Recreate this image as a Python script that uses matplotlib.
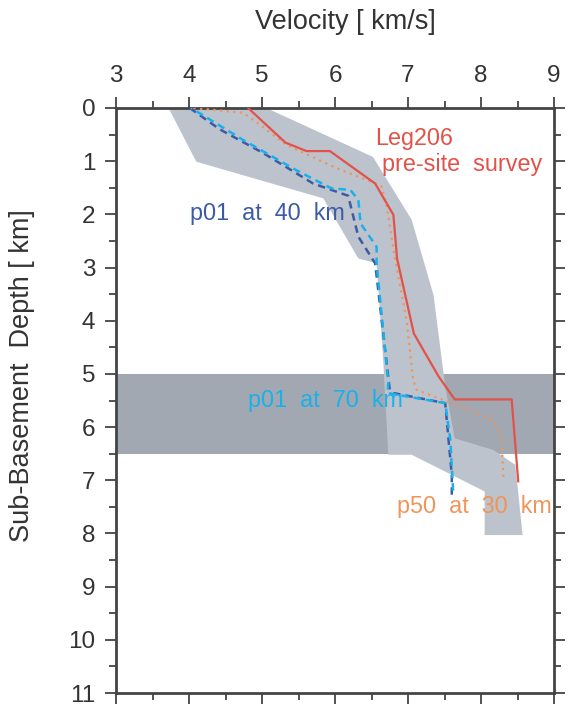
import matplotlib
matplotlib.use("Agg")
import matplotlib.pyplot as plt
from matplotlib.ticker import MultipleLocator

plt.rcParams['font.family'] = ['Liberation Sans', 'DejaVu Sans']

# Envelope (shaded range of velocity models): polygon vertices (velocity, depth)
env_v = [3.72, 4.10, 5.84, 6.32, 6.57, 6.66, 6.73, 7.05, 8.05, 8.05, 8.57,
         8.47, 8.17, 7.64, 7.51, 7.35, 7.05, 6.52, 5.06]
env_d = [0.00, 1.01, 1.70, 2.83, 2.92, 4.74, 6.52, 6.52, 7.21, 8.03, 8.03,
         6.71, 6.43, 6.21, 5.24, 3.52, 2.10, 0.92, 0.00]

# Dark band (depth range)
band_top, band_bottom = 5.0, 6.5

# Leg206 pre-site survey (red solid)
leg_v = [4.81, 5.32, 5.61, 5.93, 6.55, 6.80, 6.85, 7.08, 7.42, 7.64, 8.42, 8.51]
leg_d = [0.00, 0.65, 0.81, 0.81, 1.42, 2.01, 2.83, 4.24, 5.05, 5.48, 5.48, 7.02]

# p50 at 30 km (orange dotted)
p50_v = [4.06, 4.74, 4.95, 5.34, 6.02, 6.48, 6.64, 6.71, 6.82, 6.98, 7.07, 7.12,
         7.48, 8.17, 8.28, 8.31]
p50_d = [0.00, 0.09, 0.29, 0.70, 1.13, 1.38, 1.48, 1.85, 2.83, 3.98, 5.11, 5.30,
         5.49, 5.86, 6.24, 6.99]

# p01 at 40 km (dark blue dashed)
p40_v = [4.01, 4.42, 5.02, 5.70, 6.18, 6.32, 6.55, 6.75, 6.80, 7.51, 7.60, 7.60]
p40_d = [0.00, 0.40, 0.85, 1.42, 1.65, 2.42, 2.92, 5.30, 5.36, 5.55, 6.91, 7.31]

# p01 at 70 km (light blue dashed)
p70_v = [4.03, 4.74, 5.47, 5.95, 6.21, 6.32, 6.35, 6.57, 6.57, 6.73, 6.72, 7.51,
         7.58, 7.62]
p70_d = [0.00, 0.60, 1.17, 1.51, 1.54, 1.73, 2.17, 2.61, 2.92, 5.17, 5.36, 5.55,
         6.24, 7.24]

x_ticks = [3, 4, 5, 6, 7, 8, 9]
y_ticks = list(range(0, 12))

fig = plt.figure(figsize=(5.68, 7.06), dpi=100)
ax = fig.add_axes([116/568, 1 - 693/706, (554-116)/568, (693-108)/706])

ax.axhspan(band_top, band_bottom, color='#a1a8b1', lw=0, zorder=1)
ax.fill(env_v, env_d, color='#bcc3cd', lw=0, zorder=2)

ax.plot(p50_v, p50_d, color='#f0955a', lw=1.6, ls=(0, (1, 2)), zorder=3)
ax.plot(p40_v, p40_d, color='#3c5aa6', lw=1.8, ls=(0, (3, 2)), zorder=4)
ax.plot(p70_v, p70_d, color='#19b1ea', lw=1.8, ls=(2.5, (3, 2)), zorder=5)
ax.plot(leg_v, leg_d, color='#e25249', lw=1.6, zorder=6)

fs = 16.8
ax.text(6.55, 0.57, 'Leg206', color='#e25249', fontsize=fs, va='center', ha='left', zorder=7)
ax.text(6.64, 1.07, 'pre-site  survey', color='#e25249', fontsize=fs, va='center', ha='left', zorder=7)
ax.text(4.01, 1.99, 'p01  at  40  km', color='#3c5aa6', fontsize=fs, va='center', ha='left', zorder=7)
ax.text(4.81, 5.50, 'p01  at  70  km', color='#19b1ea', fontsize=fs, va='center', ha='left', zorder=7)
ax.text(6.85, 7.50, 'p50  at  30  km', color='#f0955a', fontsize=fs, va='center', ha='left', zorder=7)

ax.set_xlim(3, 9)
ax.set_ylim(11, 0)
ax.set_xticks(x_ticks)
ax.set_yticks(y_ticks)
ax.xaxis.set_minor_locator(MultipleLocator(0.5))
ax.yaxis.set_minor_locator(MultipleLocator(0.5))
ax.tick_params(which='both', top=True, bottom=True, left=True, right=True,
               labeltop=True, labelbottom=False, labelleft=True, labelright=False,
               direction='out', color='#444444', width=1.3, labelsize=17.5,
               labelcolor='#333333')
ax.tick_params(which='major', length=8, pad=7)
ax.tick_params(which='minor', length=5)
for s in ax.spines.values():
    s.set_linewidth(2)
    s.set_color('#444444')

fig.text(345/568, 1 - 22/706, 'Velocity [ km/s]', fontsize=19.5,
         color='#333333', ha='center', va='center')
fig.text(22/568, 1 - 376/706, 'Sub-Basement  Depth [ km]', rotation=90, fontsize=19.5,
         color='#333333', ha='center', va='center')

fig.savefig('out.png', dpi=100)
